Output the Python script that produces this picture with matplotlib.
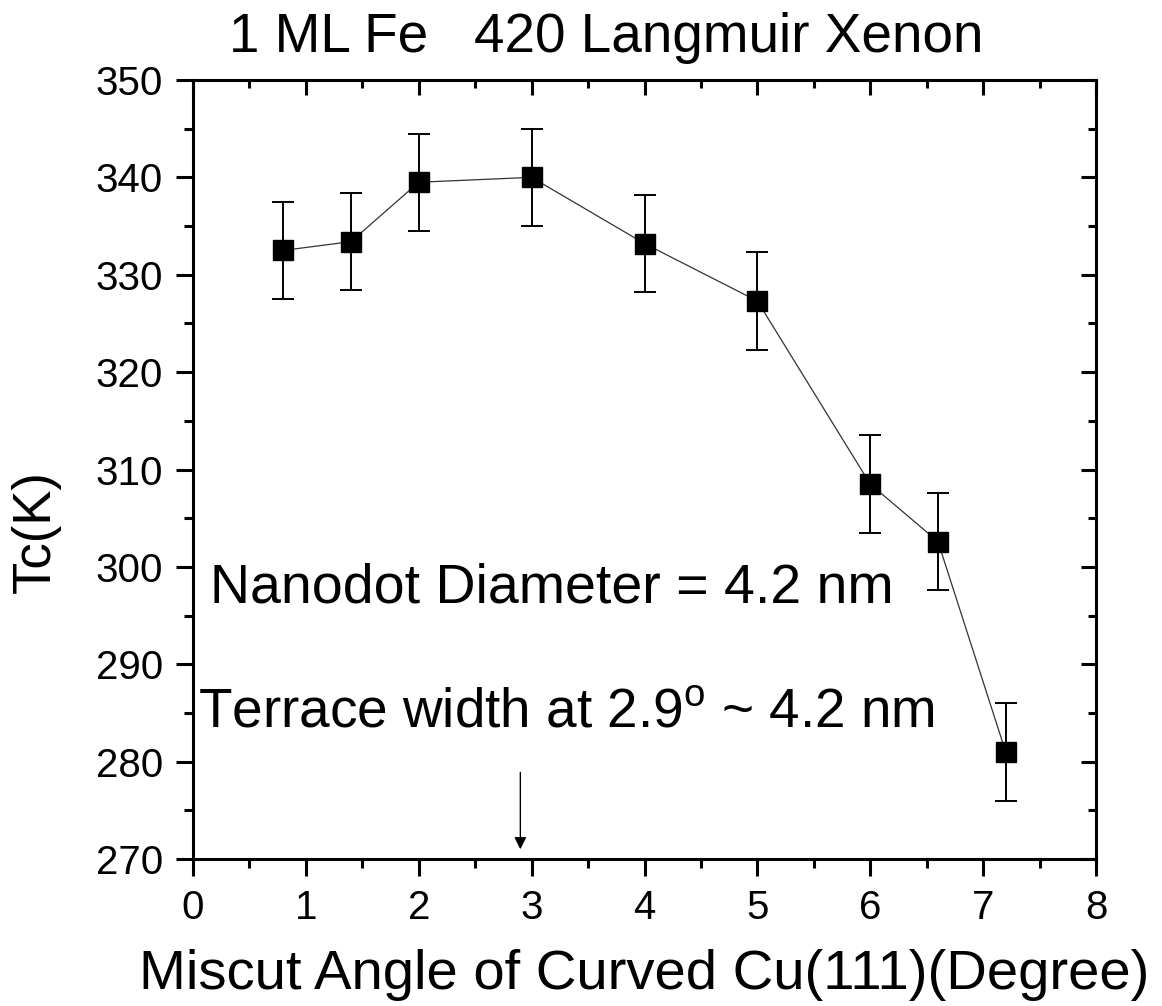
import numpy as np
import matplotlib
matplotlib.use('Agg')
import matplotlib.pyplot as plt
from matplotlib.ticker import MultipleLocator

plt.rcParams['font.family'] = ['Liberation Sans', 'DejaVu Sans']
plt.rcParams['mathtext.fontset'] = 'custom'
plt.rcParams['mathtext.rm'] = 'Liberation Sans'

# data
angle = [0.8, 1.4, 2.0, 3.0, 4.0, 5.0, 6.0, 6.6, 7.2]
tc = [332.5, 333.4, 339.5, 340.0, 333.2, 327.3, 308.5, 302.6, 281.0]
tc_err = [5, 5, 5, 5, 5, 5, 5, 5, 5]

arrow_x = 2.9
arrow_y0, arrow_y1 = 278.9, 271.0

fig = plt.figure(figsize=(11.62, 10.06), dpi=100)
ax = fig.add_axes([0.1661, 0.1461, 0.7771, 0.7744])

ax.plot(angle, tc, '-', color='#333333', lw=0.9, zorder=2)
ax.errorbar(angle, tc, yerr=tc_err, fmt='none', ecolor='black',
            elinewidth=1.4, capsize=8, capthick=1.4, zorder=3)
ax.plot(angle, tc, 's', color='black', ms=14, zorder=4)

ax.annotate('', xy=(arrow_x, arrow_y1), xytext=(arrow_x, arrow_y0),
            arrowprops=dict(arrowstyle='-|>', color='black', lw=1,
                            mutation_scale=18, shrinkA=0, shrinkB=0))

ax.text(0.15, 296.3, 'Nanodot Diameter = 4.2 nm', fontsize=40, va='baseline')
ax.text(0.045, 283.6, r'Terrace width at 2.9$^{\rm o}$ ~ 4.2 nm',
        fontsize=39.5, va='baseline')

ax.set_xlim(0, 8)
ax.set_ylim(270, 350)
ax.xaxis.set_major_locator(MultipleLocator(1))
ax.xaxis.set_minor_locator(MultipleLocator(0.5))
ax.yaxis.set_major_locator(MultipleLocator(10))
ax.yaxis.set_minor_locator(MultipleLocator(5))

for s in ax.spines.values():
    s.set_linewidth(2.2)

# bottom/left ticks point out, top/right point in
ax.tick_params(which='both', direction='out', width=2.2, labelsize=29)
ax.tick_params(which='major', length=12.5, pad=9)
ax.tick_params(which='minor', length=6.5)

axt = ax.secondary_xaxis('top')
axt.xaxis.set_major_locator(MultipleLocator(1))
axt.xaxis.set_minor_locator(MultipleLocator(0.5))
axt.tick_params(which='both', direction='in', width=2.2, labeltop=False)
axt.tick_params(which='major', length=11)
axt.tick_params(which='minor', length=6)
axr = ax.secondary_yaxis('right')
axr.yaxis.set_major_locator(MultipleLocator(10))
axr.yaxis.set_minor_locator(MultipleLocator(5))
axr.tick_params(which='both', direction='in', width=2.2, labelright=False)
axr.tick_params(which='major', length=11)
axr.tick_params(which='minor', length=6)

ax.set_xlabel('Miscut Angle of Curved Cu(111)(Degree)', fontsize=40.5, labelpad=16)
fig.text(0.031, 0.472, 'Tc(K)', rotation=90, fontsize=38, ha='center', va='center')
fig.text(0.522, 0.962, '1 ML Fe   420 Langmuir Xenon', fontsize=39.5,
         ha='center', va='center')

fig.savefig('out.png', dpi=100)
